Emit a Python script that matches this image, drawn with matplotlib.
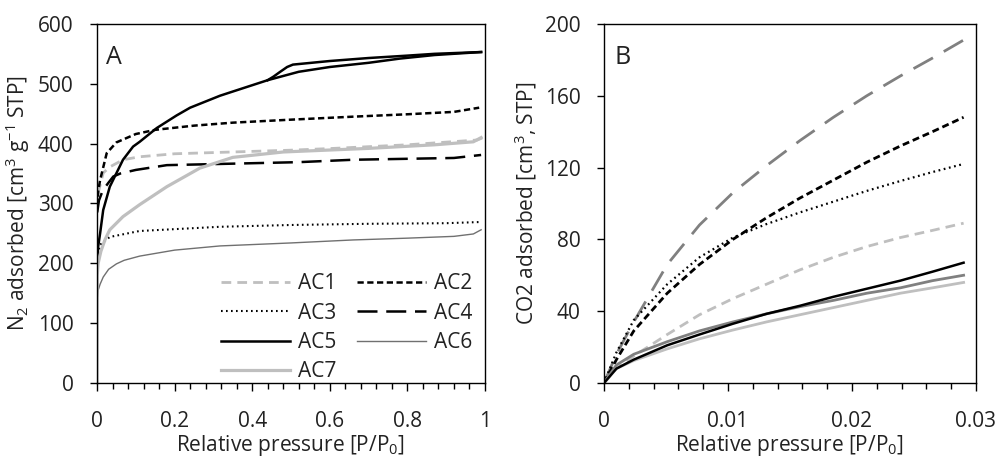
import numpy as np
import matplotlib
matplotlib.use('Agg')
import matplotlib.pyplot as plt
from matplotlib.ticker import MultipleLocator

plt.rcParams['font.family'] = ['Open Sans', 'DejaVu Sans']
plt.rcParams['mathtext.default'] = 'regular'
plt.rcParams['font.size'] = 15

# ---- panel A : N2 isotherms ----
ac1_x = [0.0005, 0.004, 0.016, 0.033, 0.067, 0.11, 0.2, 0.35, 0.5, 0.61, 0.8, 0.98, 0.995]
ac1_y = [290, 320, 351, 361, 373, 378, 383, 386, 389, 392, 398, 406, 410]
ac2_x = [0.0005, 0.003, 0.008, 0.025, 0.05, 0.1, 0.15, 0.25, 0.35, 0.5, 0.66, 0.8, 0.92, 0.985]
ac2_y = [295, 320, 339, 384, 402, 416, 423, 430, 435, 440, 445, 449, 453, 460]
ac3_x = [0.0, 0.003, 0.008, 0.033, 0.11, 0.317, 0.5, 0.7, 0.9, 0.99]
ac3_y = [190, 215, 231, 244, 254, 261, 264, 266, 267, 269]
ac4_x = [0.0005, 0.005, 0.015, 0.03, 0.042, 0.06, 0.1, 0.18, 0.317, 0.52, 0.66, 0.92, 0.99]
ac4_y = [285, 305, 322, 335, 345, 350, 356, 364, 366, 369, 373, 376, 381]
ac5_ads_x = [0.0, 0.001, 0.003, 0.008, 0.016, 0.033, 0.067, 0.093, 0.11, 0.154, 0.205, 0.24, 0.317,
             0.35, 0.44, 0.52, 0.6, 0.7, 0.78, 0.87, 0.99]
ac5_ads_y = [190, 210, 228, 250, 289, 328, 373, 395, 403, 426, 447, 460, 480,
             487, 506, 520, 528, 535, 542, 548, 553]
ac5_des_x = [0.99, 0.87, 0.8, 0.7, 0.6, 0.505, 0.49, 0.47, 0.455, 0.44]
ac5_des_y = [553, 550, 547, 543, 538, 532, 528, 519, 512, 506]
ac6_x = [0.0, 0.0005, 0.003, 0.008, 0.016, 0.03, 0.05, 0.07, 0.11, 0.2, 0.317, 0.5, 0.66, 0.8, 0.92, 0.97, 0.99]
ac6_y = [0, 140, 155, 165, 177, 190, 199, 205, 212, 222, 229, 234, 239, 242, 245, 249, 256]
ac7_x = [0.0, 0.0005, 0.003, 0.01, 0.021, 0.033, 0.067, 0.11, 0.18, 0.265, 0.35, 0.48, 0.7, 0.87, 0.97, 0.99]
ac7_y = [0, 180, 200, 220, 240, 256, 278, 298, 328, 359, 377, 386, 392, 398, 403, 410]

# ---- panel B : CO2 isotherms ----
co2_x = [0, 0.001, 0.0024, 0.0051, 0.0077, 0.0104, 0.0131, 0.0158, 0.0185, 0.0212, 0.0239, 0.0265, 0.029]
co2_ac1 = [0, 8, 15, 27, 38, 47, 55, 63, 70, 76, 81, 85, 89]
co2_ac2 = [0, 13, 29, 50, 66, 80, 92, 103, 113, 123, 132, 140, 148]
co2_ac3 = [0, 17, 35, 55, 70, 81, 88.5, 95, 101, 107, 112.5, 117.5, 122]
co2_ac4 = [0, 16, 34, 66, 88, 106, 121, 135, 148, 160, 171, 181, 191]
co2_ac5 = [0, 8, 13, 21, 27, 33, 38.5, 43, 48, 52.5, 57, 62, 67]
co2_ac6 = [0, 10, 16, 23, 29, 34, 38.5, 42.5, 46, 50, 53, 57, 60]
co2_ac7 = [0, 8, 12.5, 19, 24.6, 29.5, 34, 38, 42, 46, 50, 53, 56]

light = '#bfbfbf'
mid = '#808080'
txt = '#222222'

fig = plt.figure(figsize=(10, 4.58), dpi=100)
axA = fig.add_axes([0.097, 0.1638, 0.388, 0.784])
axB = fig.add_axes([0.604, 0.1638, 0.372, 0.784])

l1, = axA.plot(ac1_x, ac1_y, color=light, lw=2.0, dashes=(3.5, 2.2), label='AC1')
l2, = axA.plot(ac2_x, ac2_y, color='black', lw=1.8, dashes=(2.5, 1.4), label='AC2')
l3, = axA.plot(ac3_x, ac3_y, color='black', lw=1.5, dashes=(0.8, 1.6), label='AC3')
l4, = axA.plot(ac4_x, ac4_y, color='black', lw=1.8, dashes=(8, 3.5), label='AC4')
l5, = axA.plot(ac5_ads_x, ac5_ads_y, color='black', lw=1.8, label='AC5')
axA.plot(ac5_des_x, ac5_des_y, color='black', lw=1.8)
l6, = axA.plot(ac6_x, ac6_y, color='#707070', lw=1.0, label='AC6')
l7, = axA.plot(ac7_x, ac7_y, color=light, lw=2.3, label='AC7')

axB.plot(co2_x, co2_ac4, color=mid, lw=2.0, dashes=(8, 4.5))
axB.plot(co2_x, co2_ac2, color='black', lw=2.0, dashes=(2.5, 1.4))
axB.plot(co2_x, co2_ac3, color='black', lw=1.6, dashes=(0.8, 1.6))
axB.plot(co2_x, co2_ac1, color=light, lw=2.0, dashes=(3.5, 2.2))
axB.plot(co2_x, co2_ac6, color=mid, lw=2.0)
axB.plot(co2_x, co2_ac7, color=light, lw=2.0)
axB.plot(co2_x, co2_ac5, color='black', lw=1.8)

axA.set_xlim(0, 1)
axA.set_ylim(0, 600)
axA.xaxis.set_major_locator(MultipleLocator(0.2))
axA.xaxis.set_minor_locator(MultipleLocator(0.04))
axA.yaxis.set_major_locator(MultipleLocator(100))
axA.set_xticks([0, 0.2, 0.4, 0.6, 0.8, 1.0], ['0', '0.2', '0.4', '0.6', '0.8', '1'])

axB.set_xlim(0, 0.03)
axB.set_ylim(0, 200)
axB.xaxis.set_major_locator(MultipleLocator(0.01))
axB.xaxis.set_minor_locator(MultipleLocator(0.002))
axB.yaxis.set_major_locator(MultipleLocator(40))
axB.set_xticks([0, 0.01, 0.02, 0.03], ['0', '0.01', '0.02', '0.03'])

for ax in (axA, axB):
    for s in ax.spines.values():
        s.set_color('black')
        s.set_linewidth(1.0)
    ax.tick_params(axis='x', which='major', direction='out', length=6, width=1.0,
                   pad=14, labelsize=15, labelcolor=txt)
    ax.tick_params(axis='x', which='minor', direction='out', length=4, width=1.0)
    ax.tick_params(axis='y', which='major', direction='out', length=5, width=1.0,
                   pad=12, labelsize=15, labelcolor=txt)
    ax.set_xlabel('Relative pressure [P/P$_{0}$]', fontsize=15, color=txt, labelpad=1)

axA.set_ylabel('N$_{2}$ adsorbed [cm$^{3}$ g$^{-1}$ STP]', fontsize=15, color=txt, labelpad=4)
axB.set_ylabel('CO2 adsorbed [cm$^{3}$, STP]', fontsize=15, color=txt, labelpad=4)

axA.text(0.022, 0.94, 'A', transform=axA.transAxes, fontsize=18, color=txt, va='top', ha='left')
axB.text(0.028, 0.94, 'B', transform=axB.transAxes, fontsize=18, color=txt, va='top', ha='left')

axA.legend([l1, l3, l5, l7, l2, l4, l6], ['AC1', 'AC3', 'AC5', 'AC7', 'AC2', 'AC4', 'AC6'],
           ncol=2, frameon=False, loc='lower right', bbox_to_anchor=(1.0, -0.033),
           fontsize=15, handlelength=3.3, handletextpad=0.4, columnspacing=1.0,
           labelspacing=0.4, borderaxespad=0.2, labelcolor=txt)

fig.savefig('out.png', dpi=100)
